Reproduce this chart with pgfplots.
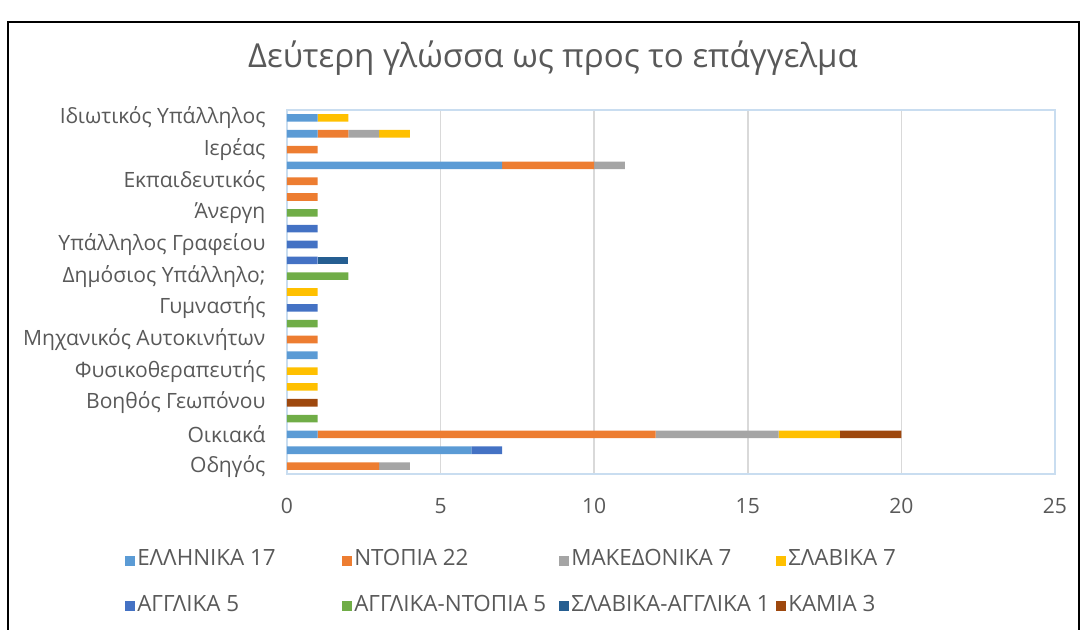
\documentclass[border=0pt]{standalone}
\usepackage{fontspec}
\setmainfont{Open Sans}
\usepackage{pgfplots}
\usepackage{pgfplotstable}
\pgfplotsset{compat=1.18}
\definecolor{cEll}{HTML}{5B9BD5}
\definecolor{cNto}{HTML}{ED7D31}
\definecolor{cMak}{HTML}{A5A5A5}
\definecolor{cSla}{HTML}{FFC000}
\definecolor{cAng}{HTML}{4472C4}
\definecolor{cAnt}{HTML}{70AD47}
\definecolor{cSag}{HTML}{255E91}
\definecolor{cKam}{HTML}{9E480E}
\definecolor{txt}{HTML}{595959}
\definecolor{grd}{HTML}{D9D9D9}
\definecolor{sel}{HTML}{C9DDF0}
\pgfplotstableread{
y ell nto mak sla ang ant sag kam
0  0 3 1 0 0 0 0 0
1  6 0 0 0 1 0 0 0
2  1 11 4 2 0 0 0 2
3  0 0 0 0 0 1 0 0
4  0 0 0 0 0 0 0 1
5  0 0 0 1 0 0 0 0
6  0 0 0 1 0 0 0 0
7  1 0 0 0 0 0 0 0
8  0 1 0 0 0 0 0 0
9  0 0 0 0 0 1 0 0
10 0 0 0 0 1 0 0 0
11 0 0 0 1 0 0 0 0
12 0 0 0 0 0 2 0 0
13 0 0 0 0 1 0 1 0
14 0 0 0 0 1 0 0 0
15 0 0 0 0 1 0 0 0
16 0 0 0 0 0 1 0 0
17 0 1 0 0 0 0 0 0
18 0 1 0 0 0 0 0 0
19 7 3 1 0 0 0 0 0
20 0 1 0 0 0 0 0 0
21 1 1 1 1 0 0 0 0
22 1 0 0 1 0 0 0 0
}\data
\newcommand{\lb}[1]{\makebox[152.25pt][l]{#1}}
\begin{document}
\begin{tikzpicture}
\begin{axis}[
  at={(0,0)}, anchor=south west,
  scale only axis, width=576pt, height=273pt,
  xbar stacked, bar width=0.48,
  xmin=0, xmax=25, ymin=-0.5, ymax=22.5,
  xtick={0,5,...,25},
  ytick={0,2,...,22},
  yticklabels={Οδηγός, Οικιακά, Βοηθός Γεωπόνου, Φυσικοθεραπευτής, Μηχανικός Αυτοκινήτων, Γυμναστής, Δημόσιος Υπάλληλο;, Υπάλληλος Γραφείου, Άνεργη, Εκπαιδευτικός, Ιερέας, Ιδιωτικός Υπάλληλος},
  major tick length=0pt,
  xmajorgrids, major grid style={grd, line width=1.1pt},
  axis line style={sel, line width=1.2pt},
  /pgf/number format/assume math mode=true,
  tick label style={font=\fontsize{15.8}{18}\selectfont, text=txt},
  yticklabel style={inner sep=0pt, xshift=-16pt},
  xticklabel style={inner sep=0pt, yshift=-18pt},
  legend image code/.code={\fill[#1] (0pt,-3.75pt) rectangle (7.5pt,3.75pt);},
  legend columns=4,
  legend cell align=left,
  legend style={at={(-0.2109,-0.2115)}, anchor=north west, draw=none, fill=none,
    inner sep=0pt, font=\fontsize{16.8}{19}\selectfont, text=txt,
    row sep=20pt,
    nodes={inner xsep=1.5pt, inner ysep=0pt, text height=11pt, text depth=3pt}},
]
\addplot[fill=cEll, draw=none] table[x=ell, y=y] {\data};
\addplot[fill=cNto, draw=none] table[x=nto, y=y] {\data};
\addplot[fill=cMak, draw=none] table[x=mak, y=y] {\data};
\addplot[fill=cSla, draw=none] table[x=sla, y=y] {\data};
\addplot[fill=cAng, draw=none] table[x=ang, y=y] {\data};
\addplot[fill=cAnt, draw=none] table[x=ant, y=y] {\data};
\addplot[fill=cSag, draw=none] table[x=sag, y=y] {\data};
\addplot[fill=cKam, draw=none] table[x=kam, y=y] {\data};
\legend{\lb{ΕΛΛΗΝΙΚΑ 17}, \lb{ΝΤΟΠΙΑ 22}, \lb{ΜΑΚΕΔΟΝΙΚΑ 7}, \lb{ΣΛΑΒΙΚΑ 7}, \lb{ΑΓΓΛΙΚΑ 5}, \lb{ΑΓΓΛΙΚΑ-ΝΤΟΠΙΑ 5}, \lb{ΣΛΑΒΙΚΑ-ΑΓΓΛΙΚΑ 1}, \lb{ΚΑΜΙΑ 3}}
\end{axis}
\node[text=txt, font=\fontsize{24.8}{29}\selectfont] at (199.5pt,312pt) {Δεύτερη γλώσσα ως προς το επάγγελμα};
\draw[black, line width=1.1pt] (-209.25pt,-130pt) -- (-209.25pt,339pt) -- (594pt,339pt) -- (594pt,-130pt);
\pgfresetboundingbox
\path[use as bounding box] (-215.25pt,-117pt) rectangle ++(812.25pt,472.5pt);
\end{tikzpicture}
\end{document}
